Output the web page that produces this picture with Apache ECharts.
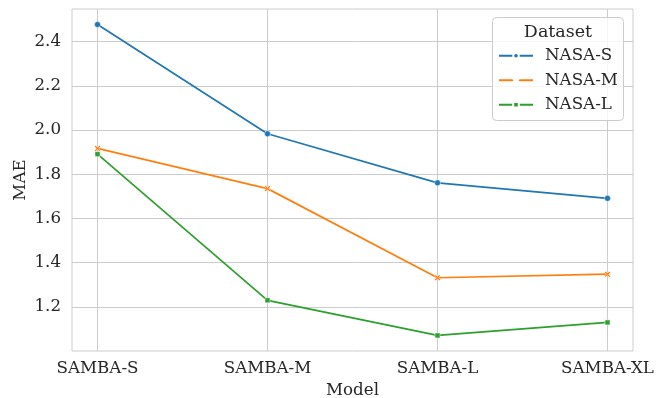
<!DOCTYPE html>
<html>
<head>
<meta charset="utf-8">
<script src="https://cdn.jsdelivr.net/npm/echarts@6/dist/echarts.min.js"></script>
<style>html,body{margin:0;padding:0;background:#fff}#c{width:662px;height:398px}</style>
</head>
<body>
<div id="c"></div>
<script>
var categories = ['SAMBA-S', 'SAMBA-M', 'SAMBA-L', 'SAMBA-XL'];
var nasaS = [2.477, 1.983, 1.761, 1.691];
var nasaM = [1.917, 1.735, 1.332, 1.348];
var nasaL = [1.891, 1.230, 1.071, 1.130];
var seriesNames = ['NASA-S', 'NASA-M', 'NASA-L'];
var yTicks = [1.2, 1.4, 1.6, 1.8, 2.0, 2.2, 2.4];
var xTicks = [0, 1, 2, 3];

var allVals = nasaS.concat(nasaM, nasaL);
var vmin = Math.min.apply(null, allVals), vmax = Math.max.apply(null, allVals);
var pad = (vmax - vmin) * 0.05;

function pts(arr) { return arr.map(function (v, i) { return [i, v]; }); }

var FONT = 'DejaVu Serif';
var TXT = '#262626';
var colors = ['#1f77b4', '#ff7f0e', '#2ca02c'];
var symbols = ['circle', 'path://M0,2 L2,0 L5,3 L8,0 L10,2 L7,5 L10,8 L8,10 L5,7 L2,10 L0,8 L3,5Z', 'rect'];
var sizes = [6, 6, 5];
var datas = [nasaS, nasaM, nasaL];

var chart = echarts.init(document.getElementById('c'), null, {renderer: 'canvas'});
chart.setOption({
  animation: false,
  backgroundColor: '#fff',
  grid: {left: 72, top: 9, right: 29, bottom: 47, show: true, borderColor: '#cccccc', borderWidth: 1,
    backgroundColor: 'transparent', containLabel: false, outerBoundsMode: 'none'},
  xAxis: {
    type: 'value', min: -0.15, max: 3.15,
    name: 'Model', nameLocation: 'middle', nameGap: 31, nameMoveOverlap: false,
    nameTextStyle: {fontFamily: FONT, fontSize: 16.7, color: TXT},
    axisLine: {show: false}, axisTick: {show: false, customValues: xTicks},
    axisLabel: {customValues: xTicks, fontFamily: FONT, fontSize: 16.7, color: TXT, margin: 9,
      formatter: function (v) { return categories[Math.round(v)]; }},
    splitLine: {show: true, lineStyle: {color: '#cccccc', width: 1}}
  },
  yAxis: {
    type: 'value', min: vmin - pad, max: vmax + pad,
    name: 'MAE', nameLocation: 'middle', nameGap: 42.5, nameMoveOverlap: false,
    nameTextStyle: {fontFamily: FONT, fontSize: 16.7, color: TXT},
    axisLine: {show: false}, axisTick: {show: false, customValues: yTicks},
    axisLabel: {customValues: yTicks, fontFamily: FONT, fontSize: 16.7, color: TXT, margin: 11,
      formatter: function (v) { return v.toFixed(1); }},
    splitLine: {show: true, lineStyle: {color: '#cccccc', width: 1}}
  },
  graphic: [
    {type: 'rect', z: 10, shape: {x: 492.5, y: 17.5, width: 131, height: 103, r: 4},
     style: {fill: 'rgba(255,255,255,0.8)', stroke: '#cccccc', lineWidth: 1}},
    {type: 'text', z: 11, x: 558, y: 32, style: {text: 'Dataset', font: '17.5px "DejaVu Serif"', fill: TXT, align: 'center', verticalAlign: 'middle'}}
  ],
  legend: {
    z: 12, orient: 'vertical', left: 498, top: 43.5, padding: 0, itemGap: 0,
    itemWidth: 34, itemHeight: 7,
    textStyle: {fontFamily: FONT, fontSize: 16.7, color: TXT, lineHeight: 24.5, padding: [0, 0, 0, 7]},
    data: seriesNames
  },
  series: seriesNames.map(function (n, k) {
    return {
      name: n, type: 'line', data: pts(datas[k]),
      symbol: symbols[k], symbolSize: sizes[k], showSymbol: true,
      lineStyle: {color: colors[k], width: 1.7},
      itemStyle: {color: colors[k], borderColor: '#fff', borderWidth: 0.5},
      emphasis: {disabled: true}
    };
  })
});
</script>
</body>
</html>
